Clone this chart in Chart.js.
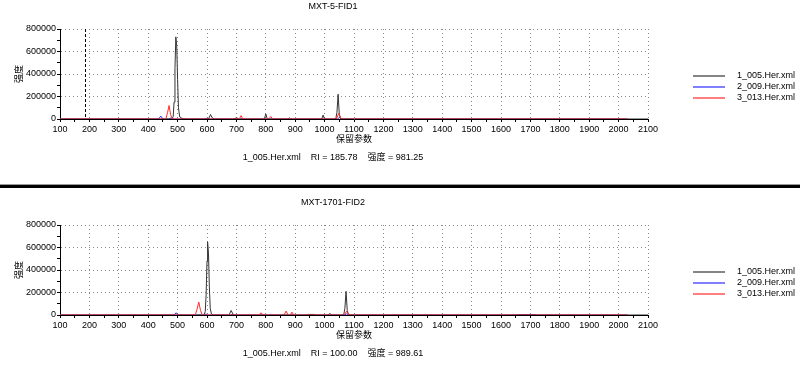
<!DOCTYPE html>
<html>
<head>
<meta charset="utf-8">
<script src="https://cdn.jsdelivr.net/npm/chart.js@4.4.1/dist/chart.umd.min.js"></script>
<style>
  body { margin: 0; background: #fff; width: 800px; height: 373px; overflow: hidden; position: relative; }
  canvas { position: absolute; left: 0; }
  #c1 { top: 0; }
  #c2 { top: 196px; }
  #sep { position: absolute; left: 0; top: 184px; width: 800px; height: 3px; background: #000; border-top: 1px solid #999; }
</style>
</head>
<body>
<canvas id="c1" width="800" height="184"></canvas>
<div id="sep"></div>
<canvas id="c2" width="800" height="177"></canvas>
<script>
const seriesNames = ['1_005.Her.xml', '2_009.Her.xml', '3_013.Her.xml'];
const seriesColors = ['#333333', '#2a2aff', '#ff2a2a'];
const chartTitles = ['MXT-5-FID1', 'MXT-1701-FID2'];
const cursorRI = [185.78, 100.00];
const cursorIntensity = [981.25, 989.61];

// MXT-5-FID1
const fid1BlackRI  = [100, 480, 485, 488, 491, 494, 497, 500, 503, 507, 515, 530, 605, 612, 618, 625, 690, 700, 710, 795, 800, 805, 875, 880, 885, 990, 995, 1000, 1038, 1042, 1046, 1050, 1055, 2100];
const fid1BlackInt = [0, 0, 20000, 150000, 450000, 730000, 650000, 350000, 100000, 20000, 5000, 0, 0, 40000, 10000, 0, 0, 10000, 0, 0, 45000, 0, 0, 10000, 0, 0, 35000, 0, 0, 60000, 220000, 40000, 0, 0];
const fid1BlueRI   = [100, 435, 443, 450, 470, 475, 480, 590, 595, 605, 610, 1045, 1050, 1055, 2030];
const fid1BlueInt  = [0, 0, 25000, 0, 0, 8000, 0, 0, 5000, 5000, 0, 0, 15000, 0, 0];
const fid1RedRI    = [100, 460, 466, 471, 476, 482, 710, 716, 722, 810, 817, 824, 1040, 1048, 1056, 2030];
const fid1RedInt   = [0, 0, 60000, 120000, 40000, 0, 0, 30000, 0, 0, 22000, 0, 0, 50000, 0, 0];

// MXT-1701-FID2
const fid2BlackRI  = [100, 590, 594, 597, 600, 602, 605, 608, 611, 615, 622, 675, 682, 690, 940, 945, 965, 970, 1010, 1018, 1026, 1065, 1069, 1073, 1077, 1082, 2100];
const fid2BlackInt = [0, 0, 30000, 180000, 480000, 650000, 550000, 250000, 60000, 10000, 0, 0, 40000, 0, 0, 5000, 5000, 0, 0, 12000, 0, 0, 60000, 210000, 40000, 0, 0];
const fid2BlueRI   = [100, 488, 495, 502, 590, 597, 603, 680, 686, 692, 1068, 1075, 1082, 1650, 1655, 1715, 1720, 2030];
const fid2BlueInt  = [0, 0, 20000, 0, 0, 8000, 0, 0, 6000, 0, 0, 10000, 0, 0, 4000, 4000, 0, 0];
const fid2RedRI    = [100, 560, 566, 572, 578, 584, 777, 784, 791, 862, 869, 876, 883, 889, 895, 1067, 1075, 1083, 2030];
const fid2RedInt   = [0, 0, 50000, 115000, 40000, 0, 0, 20000, 0, 0, 35000, 0, 0, 25000, 0, 0, 35000, 0, 0];

const FONT = "'Liberation Sans', 'Noto Sans CJK SC', sans-serif";
Chart.defaults.color = '#000';
Chart.defaults.font.family = FONT;
Chart.defaults.font.size = 9;

function pts(xs, ys) {
  return xs.map((x, i) => ({ x: x, y: ys[i] }));
}

// title, legend, cursor line and readout text
const overlay = {
  id: 'overlay',
  afterDatasetsDraw(chart, args, opts) {
    const ctx = chart.ctx, area = chart.chartArea;
    const px = chart.scales.x.getPixelForValue(opts.cursor);
    ctx.save();
    ctx.strokeStyle = '#000';
    ctx.lineWidth = 1;
    ctx.setLineDash([3, 2]);
    ctx.beginPath();
    ctx.moveTo(Math.round(px) + 0.5, area.top);
    ctx.lineTo(Math.round(px) + 0.5, area.bottom);
    ctx.stroke();
    ctx.restore();
  },
  afterDraw(chart, args, opts) {
    const ctx = chart.ctx;
    ctx.save();
    ctx.font = '9px ' + FONT;
    ctx.fillStyle = '#000';
    ctx.textBaseline = 'middle';
    ctx.textAlign = 'center';
    ctx.fillText(opts.title, 333, 7);
    ctx.fillText(seriesNames[0] + '    RI = ' + opts.cursor.toFixed(2) + '    强度 = ' + opts.intensity.toFixed(2), 333, 158);
    ctx.textAlign = 'left';
    seriesNames.forEach((name, i) => {
      const y = 76 + i * 11;
      ctx.strokeStyle = seriesColors[i];
      ctx.globalAlpha = 0.6;
      ctx.lineWidth = 2;
      ctx.beginPath();
      ctx.moveTo(693, y);
      ctx.lineTo(725, y);
      ctx.stroke();
      ctx.globalAlpha = 1;
      ctx.fillText(name, 737, y);
    });
    ctx.restore();
  }
};

function makeChart(id, idx, black, blue, red) {
  const canvas = document.getElementById(id);
  return new Chart(canvas, {
    type: 'line',
    data: {
      datasets: [
        { label: seriesNames[0], data: black, borderColor: seriesColors[0], order: 1 },
        { label: seriesNames[1], data: blue, borderColor: seriesColors[1], order: 2 },
        { label: seriesNames[2], data: red, borderColor: seriesColors[2], order: 0 }
      ]
    },
    options: {
      responsive: false,
      animation: false,
      events: [],
      elements: {
        point: { radius: 0 },
        line: { borderWidth: 1, tension: 0 }
      },
      layout: { padding: { top: 29, right: 152, bottom: canvas.height - 145, left: 0 } },
      plugins: {
        legend: { display: false },
        title: { display: false },
        tooltip: { enabled: false },
        overlay: { title: chartTitles[idx], cursor: cursorRI[idx], intensity: cursorIntensity[idx] }
      },
      scales: {
        x: {
          type: 'linear',
          min: 100,
          max: 2100,
          afterFit(s) { s.height = 26; },
          ticks: {
            stepSize: 50,
            autoSkip: false,
            maxRotation: 0,
            padding: 2,
            callback: v => (v % 100 === 0 ? String(v) : '')
          },
          grid: {
            color: c => (c.tick && c.tick.value % 100 === 0 ? '#8a8a8a' : 'rgba(0,0,0,0)'),
            tickColor: '#000',
            tickLength: 3
          },
          border: { color: '#000', dash: [1, 3] },
          title: { display: true, text: '保留参数', padding: { top: 0, bottom: 0 } }
        },
        y: {
          min: 0,
          max: 800000,
          afterFit(s) { s.width = 60; },
          ticks: {
            stepSize: 100000,
            autoSkip: false,
            padding: 1,
            callback: v => (v % 200000 === 0 ? String(v) : '')
          },
          grid: {
            color: c => (c.tick && c.tick.value % 200000 === 0 ? '#8a8a8a' : 'rgba(0,0,0,0)'),
            tickColor: '#000',
            tickLength: 3
          },
          border: { color: '#000', dash: [1, 3] },
          title: { display: true, text: '强度', padding: { top: 14, bottom: 0 } }
        }
      }
    },
    plugins: [overlay]
  });
}

makeChart('c1', 0, pts(fid1BlackRI, fid1BlackInt), pts(fid1BlueRI, fid1BlueInt), pts(fid1RedRI, fid1RedInt));
makeChart('c2', 1, pts(fid2BlackRI, fid2BlackInt), pts(fid2BlueRI, fid2BlueInt), pts(fid2RedRI, fid2RedInt));
</script>
</body>
</html>
